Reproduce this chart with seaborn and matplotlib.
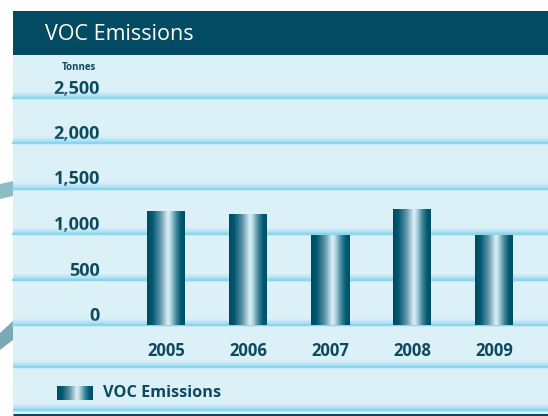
import numpy as np
import matplotlib
matplotlib.use("Agg")
import matplotlib.pyplot as plt
from matplotlib.colors import LinearSegmentedColormap
from matplotlib.patches import Rectangle, Polygon
import seaborn as sns

# ---- data ----
years = ["2005", "2006", "2007", "2008", "2009"]
voc_tonnes = [1250, 1215, 985, 1270, 985]
y_ticks = [0, 500, 1000, 1500, 2000, 2500]
y_tick_labels = ["0", "500", "1,000", "1,500", "2,000", "2,500"]
title = "VOC Emissions"
unit_label = "Tonnes"
series_name = "VOC Emissions"

sns.set_theme(style="white")
plt.rcParams["font.family"] = ["Open Sans", "DejaVu Sans"]

DARK = "#024b63"
TEXT = "#0b4a5f"
BG = "#dcf0f8"
GRID = "#8ad6ef"
PX = 0.72  # one pixel in points at dpi 100

W, H = 548, 416
fig = plt.figure(figsize=(W / 100, H / 100), dpi=100)

# background layer in pixel coordinates
bg = fig.add_axes([0, 0, 1, 1])
bg.set_xlim(0, W)
bg.set_ylim(H, 0)
bg.axis("off")
bg.add_patch(Rectangle((13, 11), W - 13, H - 11, color=BG, lw=0))
bg.add_patch(Rectangle((13, 11), W - 13, 44, color=DARK, lw=0))
bg.add_patch(Polygon([(0, 184), (13, 181), (13, 196), (0, 199)], color="#8fbcc4", lw=0))
bg.add_patch(Polygon([(0, 333), (13, 321), (13, 340), (0, 350)], color="#7aaab4", lw=0))
bg.text(45, 34, title, color="white", fontsize=15.5, va="center", ha="left")
bg.text(79, 68, unit_label, color=TEXT, fontsize=7, fontweight="bold", va="center", ha="center")

GLOW = [(k, 0.7 * (1 - k / 6)) for k in range(1, 6)]

def glow_line_px(y):
    for k, a in GLOW:
        bg.plot([13, W], [y - 1 - k, y - 1 - k], color=GRID, lw=PX * 1.05, alpha=a,
                solid_capstyle="butt")
    bg.plot([13, W], [y, y], color=GRID, lw=PX * 2.5, solid_capstyle="butt")

glow_line_px(367)
glow_line_px(410)
bg.plot([13, W], [414.5, 414.5], color=DARK, lw=PX * 3, solid_capstyle="butt")

cmap = LinearSegmentedColormap.from_list(
    "cyl",
    [(0.0, "#004a63"), (0.14, "#005870"), (0.35, "#5e93a7"),
     (0.55, "#dcf0f6"), (0.62, "#b9dae4"), (0.78, "#3f8499"),
     (0.9, "#005a72"), (1.0, "#004e67")])
grad = np.linspace(0, 1, 256).reshape(1, -1)

# legend
bg.imshow(grad, cmap=cmap, extent=(57, 93, 400, 386), aspect="auto", zorder=3)
bg.text(103, 393, series_name, color=TEXT, fontsize=11.7, fontweight="bold", va="center", ha="left")

# main plot
y0_px, ytop_px = 325, 60
units_per_px = 2500 / (325 - 97.5)
ytop = (y0_px - ytop_px) * units_per_px
ax = fig.add_axes([13 / W, (H - y0_px) / H, (W - 13) / W, (y0_px - ytop_px) / H])
ax.patch.set_alpha(0)

sns.barplot(x=years, y=voc_tonnes, ax=ax, color="#004a63", width=38 / 82, zorder=3)
left = (166 - 13) / 82
xlim = (-left, -left + (W - 13) / 82)

for v in y_ticks:
    for k, a in GLOW:
        ax.axhline(v + (1 + k) * units_per_px, color=GRID, lw=PX * 1.05, alpha=a, zorder=1)
    ax.axhline(v, color=GRID, lw=PX * 2.5, zorder=1, clip_on=False)

for p in ax.patches:
    x, y = p.get_x(), p.get_y()
    w, h = p.get_width(), p.get_height()
    p.set_facecolor("none")
    p.set_edgecolor("none")
    ax.imshow(grad, cmap=cmap, extent=(x, x + w, y, y + h), aspect="auto", zorder=3)
ax.set_xlim(*xlim)
ax.set_ylim(0, ytop)

ax.set_yticks(y_ticks, y_tick_labels)
ax.set_xticks(range(len(years)), years)
ax.tick_params(axis="y", length=0, pad=-(100 - 13) / 1.389, labelsize=13, labelcolor=TEXT)
ax.tick_params(axis="x", length=0, pad=17 / 1.389, labelsize=12, labelcolor=TEXT)
for lab in ax.get_yticklabels():
    lab.set_fontweight("bold")
    lab.set_verticalalignment("bottom")
    lab.set_zorder(5)
for lab in ax.get_xticklabels():
    lab.set_fontweight("bold")
ax.set_xlabel("")
ax.set_ylabel("")
for s in ax.spines.values():
    s.set_visible(False)

fig.savefig("out.png", dpi=100)
